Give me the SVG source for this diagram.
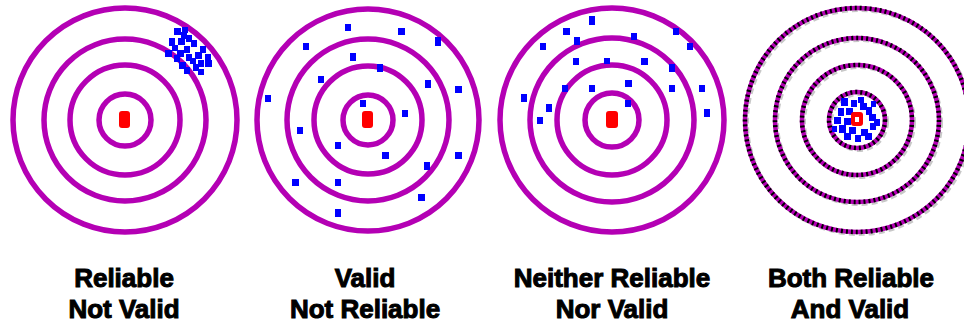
<svg xmlns="http://www.w3.org/2000/svg" width="964" height="323" viewBox="0 0 964 323">
<style>
.ring{fill:none;stroke:#b400b4;stroke-width:5.5}
.ringd{fill:none;stroke:#b400b4;stroke-width:4.5}
.dash{fill:none;stroke:#000;stroke-width:4.5;stroke-dasharray:2 3}
.shadow{fill:none;stroke:#c8c8c8;stroke-width:4;stroke-dasharray:6 4}
.bull{fill:#ff0000}
.dot{fill:#0000ff}
.lbl{font-family:"Liberation Sans",Arial,sans-serif;font-weight:bold;font-size:26px;text-anchor:middle;fill:#000;stroke:#000;stroke-width:1}
</style>
<rect width="964" height="323" fill="#fff"/>

<g id="target-reliable-not-valid">
<circle class="ring" cx="125" cy="120" r="112"/>
<circle class="ring" cx="125" cy="120" r="81"/>
<circle class="ring" cx="125" cy="120" r="55"/>
<circle class="ring" cx="125" cy="120" r="26"/>
<rect class="bull" x="119" y="111" width="11" height="17" rx="3"/>
<g class="dot">
<rect x="174" y="28" width="7" height="7"/><rect x="181" y="32" width="6" height="7"/><rect x="186" y="35" width="6" height="7"/>
<rect x="169" y="38" width="6" height="8"/><rect x="178" y="38" width="7" height="7"/><rect x="191" y="40" width="6" height="7"/>
<rect x="165" y="50" width="7" height="7"/><rect x="177" y="50" width="7" height="7"/><rect x="184" y="46" width="6" height="7"/>
<rect x="195" y="52" width="7" height="7"/><rect x="174" y="55" width="6" height="7"/><rect x="186" y="54" width="6" height="7"/>
<rect x="198" y="60" width="6" height="7"/><rect x="179" y="62" width="7" height="7"/><rect x="184" y="67" width="6" height="7"/>
<rect x="193" y="64" width="6" height="7"/><rect x="172" y="45" width="6" height="6"/><rect x="200" y="46" width="6" height="7"/>
<rect x="205" y="54" width="6" height="6"/><rect x="190" y="58" width="6" height="6"/><rect x="182" y="27" width="6" height="6"/>
<rect x="205" y="60" width="7" height="7"/><rect x="198" y="69" width="6" height="6"/>
</g>
</g>

<g id="target-valid-not-reliable">
<circle class="ring" cx="368" cy="120" r="111"/>
<circle class="ring" cx="368" cy="120" r="81"/>
<circle class="ring" cx="368" cy="120" r="54"/>
<circle class="ring" cx="368" cy="120" r="25"/>
<rect class="bull" x="362" y="111" width="11" height="17" rx="3"/>
<g class="dot">
<rect x="345" y="24" width="6" height="7"/><rect x="398" y="28" width="7" height="7"/><rect x="435" y="37" width="6" height="9"/>
<rect x="303" y="43" width="6" height="7"/><rect x="350" y="53" width="6" height="8"/><rect x="377" y="64" width="6" height="8"/>
<rect x="318" y="76" width="6" height="7"/><rect x="425" y="80" width="6" height="8"/><rect x="455" y="86" width="7" height="7"/>
<rect x="265" y="95" width="6" height="7"/><rect x="360" y="100" width="6" height="7"/><rect x="402" y="110" width="6" height="7"/>
<rect x="297" y="127" width="6" height="7"/><rect x="335" y="142" width="6" height="7"/><rect x="382" y="152" width="7" height="7"/>
<rect x="455" y="152" width="7" height="7"/><rect x="424" y="162" width="6" height="8"/><rect x="292" y="179" width="7" height="7"/>
<rect x="335" y="179" width="6" height="7"/><rect x="418" y="194" width="7" height="7"/><rect x="335" y="209" width="6" height="8"/>
</g>
</g>

<g id="target-neither">
<circle class="ring" cx="612" cy="120" r="112"/>
<circle class="ring" cx="612" cy="120" r="82"/>
<circle class="ring" cx="612" cy="120" r="55"/>
<circle class="ring" cx="612" cy="120" r="27"/>
<rect class="bull" x="606" y="111" width="12" height="17" rx="3"/>
<g class="dot">
<rect x="589" y="16" width="6" height="9"/><rect x="563" y="28" width="7" height="7"/><rect x="673" y="28" width="6" height="7"/>
<rect x="631" y="33" width="6" height="7"/><rect x="574" y="37" width="6" height="8"/><rect x="540" y="43" width="6" height="7"/>
<rect x="687" y="43" width="6" height="7"/><rect x="573" y="58" width="6" height="7"/><rect x="604" y="58" width="6" height="6"/>
<rect x="641" y="58" width="7" height="7"/><rect x="669" y="64" width="6" height="8"/><rect x="625" y="80" width="7" height="7"/>
<rect x="562" y="85" width="6" height="7"/><rect x="589" y="85" width="6" height="7"/><rect x="669" y="85" width="6" height="7"/>
<rect x="699" y="85" width="6" height="7"/><rect x="521" y="94" width="6" height="8"/><rect x="546" y="104" width="6" height="8"/>
<rect x="625" y="100" width="6" height="7"/><rect x="704" y="109" width="6" height="8"/><rect x="537" y="117" width="6" height="7"/>
</g>
</g>

<g id="target-both">
<circle class="shadow" cx="859" cy="122" r="112"/>
<circle class="shadow" cx="859" cy="122" r="82"/>
<circle class="shadow" cx="859" cy="122" r="55"/>
<circle class="shadow" cx="859" cy="122" r="28"/>
<circle class="ringd" cx="857" cy="120" r="112"/>
<circle class="ringd" cx="857" cy="120" r="82"/>
<circle class="ringd" cx="857" cy="120" r="55"/>
<circle class="ringd" cx="857" cy="120" r="28"/>
<circle class="dash" cx="857" cy="120" r="112"/>
<circle class="dash" cx="857" cy="120" r="82"/>
<circle class="dash" cx="857" cy="120" r="55"/>
<circle class="dash" cx="857" cy="120" r="28"/>
<g class="dot">
<rect x="841" y="98" width="7" height="8"/><rect x="851" y="100" width="6" height="7"/><rect x="860" y="103" width="7" height="7"/>
<rect x="838" y="108" width="6" height="8"/><rect x="846" y="108" width="7" height="7"/><rect x="866" y="107" width="6" height="8"/>
<rect x="834" y="117" width="7" height="7"/><rect x="844" y="118" width="7" height="7"/><rect x="869" y="114" width="7" height="7"/>
<rect x="839" y="125" width="7" height="8"/><rect x="849" y="127" width="7" height="7"/><rect x="861" y="129" width="7" height="7"/>
<rect x="870" y="123" width="6" height="7"/><rect x="844" y="133" width="7" height="7"/><rect x="855" y="135" width="6" height="7"/>
<rect x="865" y="133" width="7" height="7"/><rect x="852" y="112" width="6" height="6"/><rect x="874" y="119" width="6" height="7"/>
<rect x="858" y="97" width="6" height="6"/><rect x="871" y="101" width="5" height="6"/><rect x="832" y="126" width="5" height="6"/>
</g>
<rect class="bull" x="851" y="112" width="12" height="14" rx="3"/>
<rect x="855" y="117" width="4" height="5" fill="#fff"/>
</g>

<g id="labels">
<text class="lbl" x="124" y="287">Reliable</text>
<text class="lbl" x="124" y="318">Not Valid</text>
<text class="lbl" x="365" y="287">Valid</text>
<text class="lbl" x="365" y="318">Not Reliable</text>
<text class="lbl" x="612" y="287">Neither Reliable</text>
<text class="lbl" x="612" y="318">Nor Valid</text>
<text class="lbl" x="851" y="287">Both Reliable</text>
<text class="lbl" x="850" y="318">And Valid</text>
</g>
</svg>
